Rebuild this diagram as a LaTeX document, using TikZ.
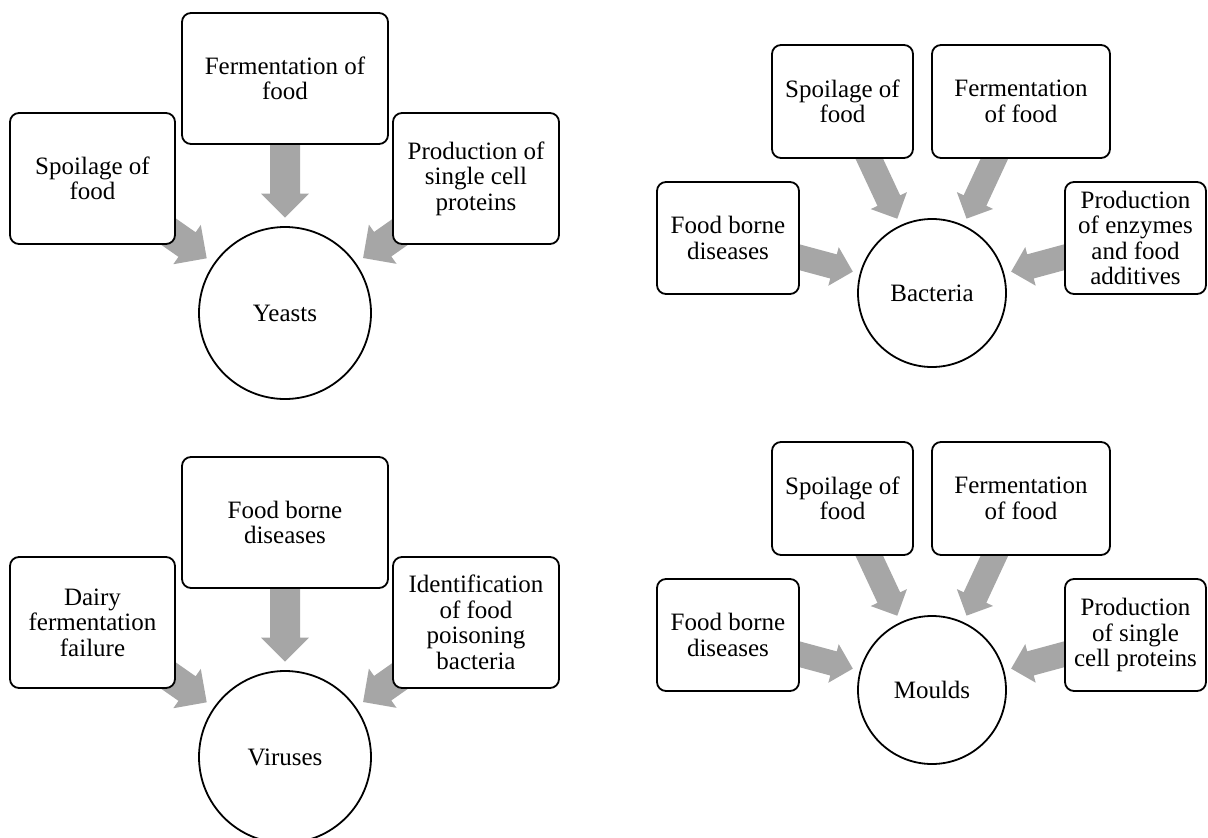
\documentclass[tikz,border=0pt]{standalone}
\usepackage{fontspec}
\setmainfont{Liberation Serif}
\usetikzlibrary{calc,backgrounds}
\definecolor{arrowgray}{RGB}{166,166,166}

% Block arrow from the centre of node #1 towards node #2.
% #3: distance of the tip from the centre of #2, #4: half shaft width,
% #5: half head width, #6: head length (all in pt).
\newcommand{\blockarrow}[6]{%
  \pgfmathsetmacro\baBase{#3+#6}%
  \path ($(#2.center)!#3pt!(#1.center)$) coordinate (ba-t)
        ($(#2.center)!\baBase pt!(#1.center)$) coordinate (ba-b);
  \fill[arrowgray]
    ($(#1.center)!#4pt!90:(ba-t)$) -- ($(ba-b)!#4pt!90:(ba-t)$) --
    ($(ba-b)!#5pt!90:(ba-t)$) -- (ba-t) --
    ($(ba-b)!#5pt!-90:(ba-t)$) -- ($(ba-b)!#4pt!-90:(ba-t)$) --
    ($(#1.center)!#4pt!-90:(ba-t)$) -- cycle;
}

\begin{document}
\begin{tikzpicture}[x=1pt,y=-1pt,
  every node/.style={font=\fontsize{25}{25.5}\selectfont, align=center,
                     inner sep=0pt, outer sep=0pt},
  topic/.style={draw, line width=1.8pt, fill=white, rounded corners=9pt},
  hub/.style={circle, draw, line width=1.8pt, fill=white},
  bigbox/.style={topic, minimum height=131pt},
  smallbox/.style={topic, minimum height=113pt},
]
\useasboundingbox (0,0) rectangle (1208,838);

% ---- Yeasts ----
\node[bigbox, minimum width=206pt] (yF) at (285,78.5) {Fermentation of\\food};
\node[bigbox, minimum width=165pt] (yS) at (92.5,178.5) {Spoilage of\\food};
\node[bigbox, minimum width=166pt] (yP) at (476,178.5) {Production of\\single cell\\proteins};
\node[hub, minimum size=172pt] (yC) at (285,313) {Yeasts};

% ---- Viruses ----
\begin{scope}[shift={(0,444)}]
\node[bigbox, minimum width=206pt] (vF) at (285,78.5) {Food borne\\diseases};
\node[bigbox, minimum width=165pt] (vS) at (92.5,178.5) {Dairy\\fermentation\\failure};
\node[bigbox, minimum width=166pt] (vP) at (476,178.5) {Identification\\of food\\poisoning\\bacteria};
\node[hub, minimum size=172pt] (vC) at (285,313) {Viruses};
\end{scope}

% ---- Bacteria ----
\node[smallbox, minimum width=141pt] (bS) at (842.5,101.5) {Spoilage of\\food};
\node[smallbox, minimum width=178pt] (bF) at (1021,101.5) {Fermentation\\of food};
\node[smallbox, minimum width=142pt, minimum height=112pt] (bD) at (728,238) {Food borne\\diseases};
\node[smallbox, minimum width=141pt, minimum height=112pt] (bP) at (1135.5,238) {Production\\of enzymes\\and food\\additives};
\node[hub, minimum size=148pt] (bC) at (932,293) {Bacteria};

% ---- Moulds ----
\begin{scope}[shift={(0,397)}]
\node[smallbox, minimum width=141pt] (mS) at (842.5,101.5) {Spoilage of\\food};
\node[smallbox, minimum width=178pt] (mF) at (1021,101.5) {Fermentation\\of food};
\node[smallbox, minimum width=142pt, minimum height=112pt] (mD) at (728,238) {Food borne\\diseases};
\node[smallbox, minimum width=141pt, minimum height=112pt] (mP) at (1135.5,238) {Production\\of single\\cell proteins};
\node[hub, minimum size=148pt] (mC) at (932,293) {Moulds};
\end{scope}

% ---- gray arrows, behind the boxes ----
\begin{scope}[on background layer]
\blockarrow{yF}{yC}{95.5}{15}{24}{24}
\blockarrow{yS}{yC}{95.5}{15}{24}{24}
\blockarrow{yP}{yC}{95.5}{15}{24}{24}
\blockarrow{vF}{vC}{95.5}{15}{24}{24}
\blockarrow{vS}{vC}{95.5}{15}{24}{24}
\blockarrow{vP}{vC}{95.5}{15}{24}{24}
\blockarrow{bS}{bC}{82}{12.5}{20}{20}
\blockarrow{bF}{bC}{82}{12.5}{20}{20}
\blockarrow{bD}{bC}{82}{12.5}{20}{20}
\blockarrow{bP}{bC}{82}{12.5}{20}{20}
\blockarrow{mS}{mC}{82}{12.5}{20}{20}
\blockarrow{mF}{mC}{82}{12.5}{20}{20}
\blockarrow{mD}{mC}{82}{12.5}{20}{20}
\blockarrow{mP}{mC}{82}{12.5}{20}{20}
\end{scope}
\end{tikzpicture}
\end{document}
